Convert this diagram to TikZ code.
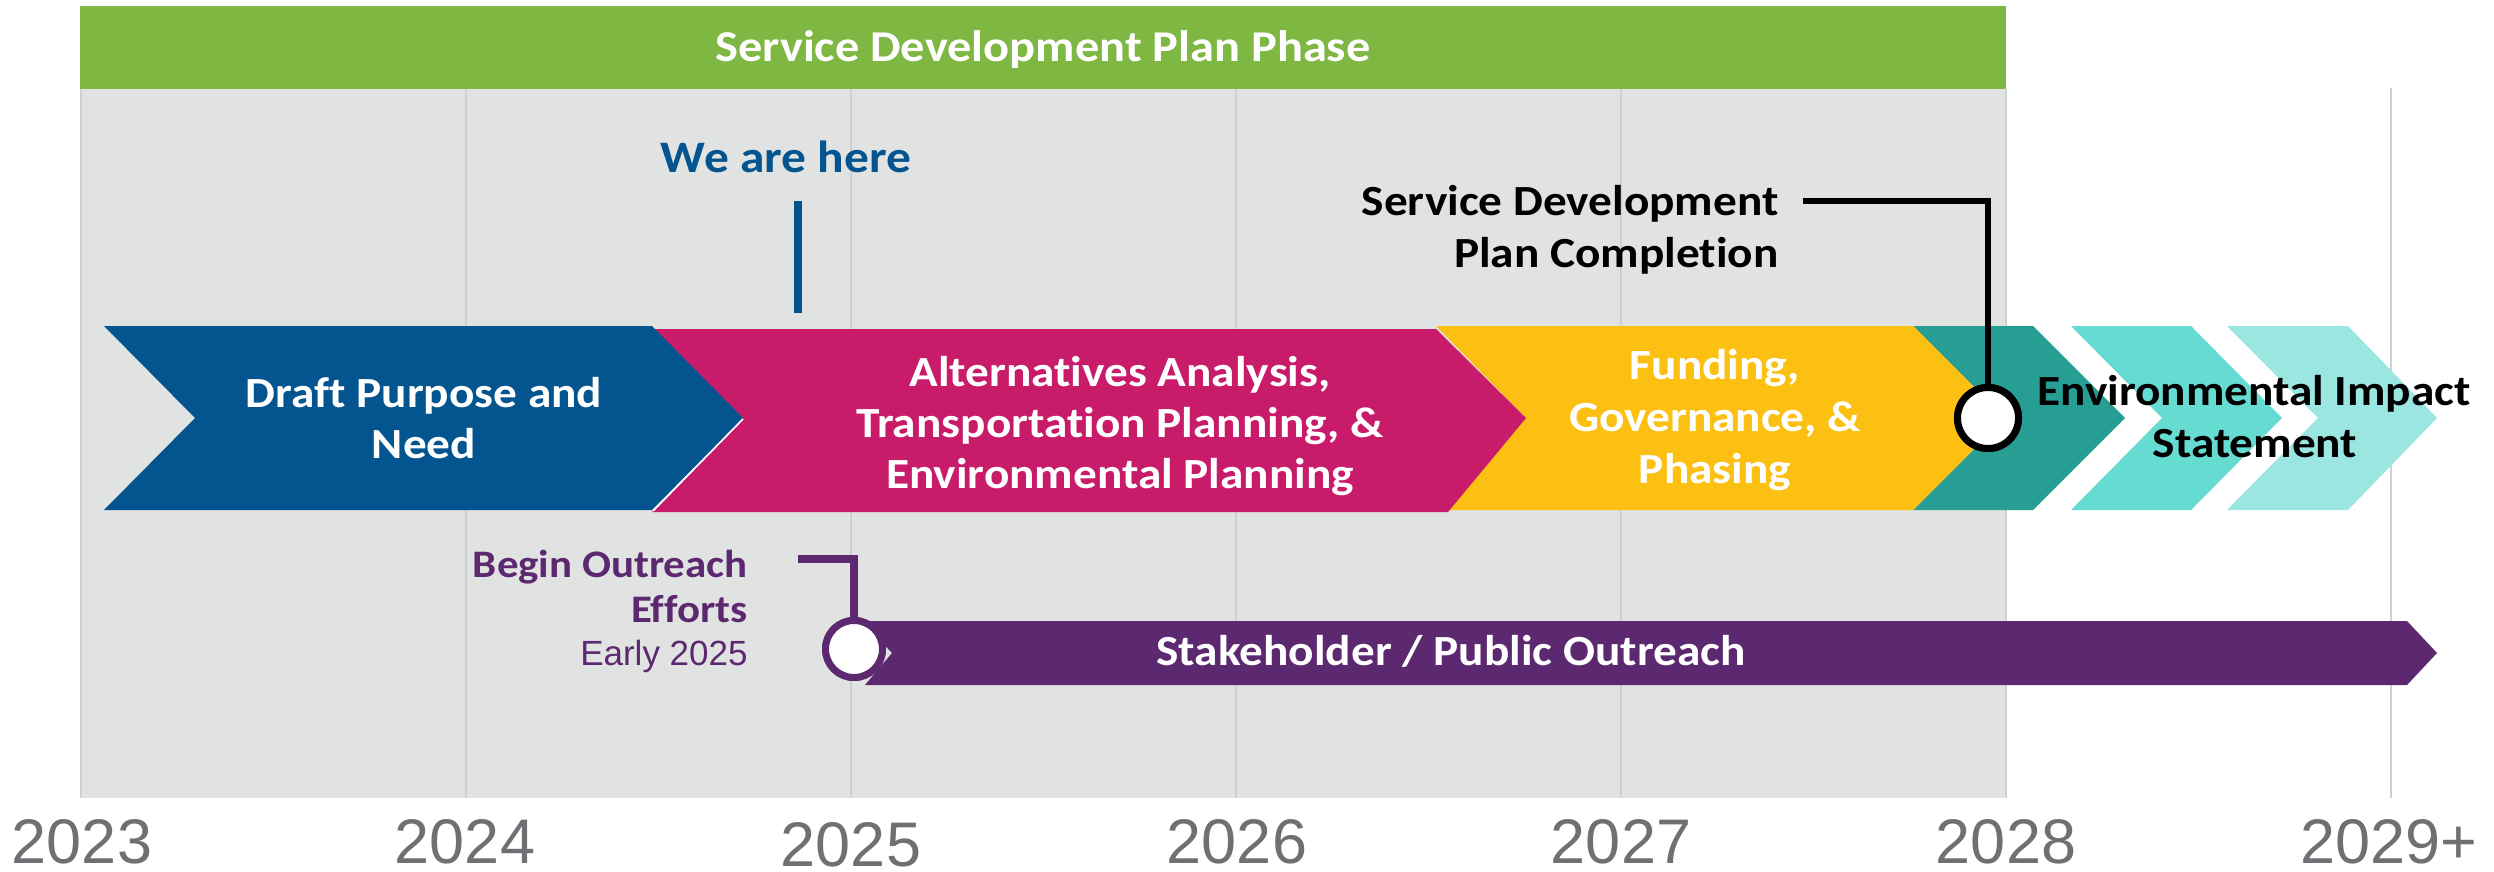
\documentclass[tikz,border=0pt]{standalone}
\usepackage{fontspec}
\setmainfont{Carlito}[Ligatures=NoCommon, FakeStretch=1.1]
\newfontfamily\arialf{Liberation Sans}
\definecolor{sdpgreen}{HTML}{7EB742}
\definecolor{bggrey}{HTML}{E1E3E2}
\definecolor{gridgrey}{HTML}{CFD0D0}
\definecolor{cblue}{HTML}{04558F}
\definecolor{cpink}{HTML}{C81B6A}
\definecolor{cyellow}{HTML}{FCC013}
\definecolor{tealA}{HTML}{279E93}
\definecolor{tealB}{HTML}{66DBD2}
\definecolor{tealC}{HTML}{9BE6E1}
\definecolor{cpurple}{HTML}{5C2870}
\definecolor{yeargrey}{HTML}{707074}
\begin{document}
\begin{tikzpicture}[x=0.5pt,y=-0.5pt,
  lbl/.style={inner sep=0pt, anchor=base, font=\bfseries\fontsize{21.5}{26}\selectfont, text=white},
  blk/.style={lbl, text=black},
  rlbl/.style={lbl, anchor=base east},
  yr/.style={inner sep=0pt, anchor=base, font=\arialf\fontsize{31.5}{36}\selectfont, text=yeargrey},
  gridln/.style={draw=gridgrey, line width=0.75pt},
  milestone/.style={circle, fill=white, inner sep=0pt, minimum size=30pt},
]
\useasboundingbox (0,0) rectangle (2494,872);
\fill[white] (0,0) rectangle (2494,872);
% background and grid
\fill[bggrey] (81,89) rectangle (2006,798);
\foreach \gx in {81,466,851,1236,1621,2006} \draw[gridln] (\gx,89) -- (\gx,798);
\draw[gridln] (2391,88) -- (2391,798);
% phase bar
\fill[sdpgreen] (80,6) rectangle (2006,89);
\node[lbl, font=\bfseries\fontsize{22}{26}\selectfont] (sdp) at (1043,62) {Service Development Plan Phase};
% chevrons
\fill[tealA] (1913,326) -- (2033,326) -- (2125,418) -- (2033,510) -- (1913,510) -- (2005,418) -- cycle;
\fill[cyellow] (1436,326) -- (1913,326) -- (2005,418) -- (1913,510) -- (1436,510) -- (1526,418) -- cycle;
\fill[cpink] (652,329) -- (1436,329) -- (1526,418) -- (1448,512) -- (652,512) -- (743,418) -- cycle;
\fill[cblue] (104,326) -- (652,326) -- (743,418) -- (652,510) -- (104,510) -- (195,418) -- cycle;
\draw[white, line width=0.8pt] (743,419) -- (653,511);
\fill[tealB] (2071,326) -- (2191,326) -- (2282,418) -- (2191,510) -- (2071,510) -- (2162,418) -- cycle;
\fill[tealC] (2227,326) -- (2348,326) -- (2437,418) -- (2348,510) -- (2227,510) -- (2318,418) -- cycle;
% outreach bar
\fill[cpurple] (862,621) -- (2407,621) -- (2437,653) -- (2407,685) -- (865,685) -- (892,653) -- cycle;
% chevron labels
\node[lbl] (dpA) at (424,407) {Draft Purpose and};
\node[lbl] (dpB) at (424,458) {Need};
\node[lbl] (aaA) at (1120,386) {Alternatives Analysis,};
\node[lbl] (aaB) at (1120,437) {Transportation Planning, \&};
\node[lbl] (aaC) at (1120,488) {Environmental Planning};
\node[lbl] (fgA) at (1715,379) {Funding,};
\node[lbl] (fgB) at (1715,431) {Governance, \&};
\node[lbl] (fgC) at (1715,483) {Phasing};
\node[blk] (eisA) at (2254,405) {Environmental Impact};
\node[blk] (eisB) at (2255,457) {Statement};
\node[lbl] (sto) at (1451,665) {Stakeholder / Public Outreach};
% we are here
\node[lbl, text=cblue, font=\bfseries\fontsize{22.5}{26}\selectfont] (here) at (786,172) {We are here};
\coordinate (hereA) at (798,201);
\coordinate (hereB) at (798,313);
\draw[cblue, line width=4pt] (hereA) -- (hereB);
% SDP completion
\node[rlbl, text=black] (scA) at (1779,215) {Service Development};
\node[rlbl, text=black] (scB) at (1779,267) {Plan Completion};
\node[milestone, draw=black, line width=3.5pt, minimum size=30.5pt] (bcirc) at (1988,418) {};
\coordinate (scStart) at (1803,201);
\draw[black, line width=3pt] (scStart) -| (bcirc.north);
\node[milestone, draw=black, line width=3.5pt, minimum size=30.5pt] at (bcirc) {};
% outreach start
\node[rlbl, text=cpurple, font=\bfseries\fontsize{19.5}{24}\selectfont] (boA) at (748,577) {Begin Outreach};
\node[rlbl, text=cpurple, font=\bfseries\fontsize{19.5}{24}\selectfont] (boB) at (748,622) {Efforts};
\node[rlbl, text=cpurple, font=\arialf\fontsize{17.5}{21}\selectfont] (boC) at (748,665) {Early 2025};
\node[milestone, draw=cpurple, line width=3.5pt, minimum size=28.5pt] (pcirc) at (854,649) {};
\coordinate (boStart) at (798,559);
\draw[cpurple, line width=4pt] (boStart) -| (pcirc.north);
\node[milestone, draw=cpurple, line width=3.5pt, minimum size=28.5pt] at (pcirc) {};
% years
\node[yr] (y23) at (82,863) {2023};
\node[yr] (y24) at (465,863) {2024};
\node[yr] (y25) at (851,866) {2025};
\node[yr] (y26) at (1237,863) {2026};
\node[yr] (y27) at (1621,863) {2027};
\node[yr] (y28) at (2006,863) {2028};
\node[yr] (y29) at (2389,863) {2029+};
\end{tikzpicture}
\end{document}
